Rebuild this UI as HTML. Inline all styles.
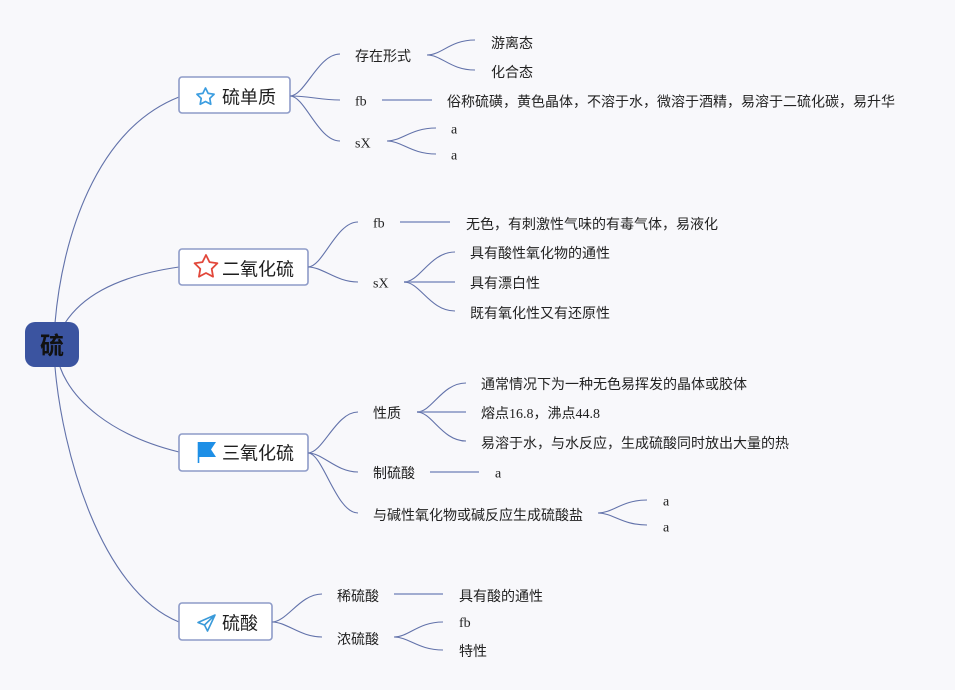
<!DOCTYPE html>
<html><head><meta charset="utf-8">
<style>
html,body{margin:0;padding:0;background:#f8f8fb;}
svg{display:block;}
.t{font-family:"Liberation Serif","Noto Sans CJK SC",sans-serif;font-size:14px;fill:#222;}
.m{font-family:"Liberation Sans","Noto Sans CJK SC",sans-serif;font-size:18px;fill:#1e1e1e;}
.c{fill:none;stroke:#6272aa;stroke-width:1.1;}
.h{fill:none;stroke:#8493c2;stroke-width:1.5;}
.b{fill:#fff;stroke:#8e9bc8;stroke-width:1.6;}
</style></head>
<body>
<svg width="955" height="690" viewBox="0 0 955 690" xmlns="http://www.w3.org/2000/svg">
<rect width="955" height="690" fill="#f8f8fb"/>

<!-- root connectors -->
<path class="c" d="M55,323 C62,240 95,130 179,97"/>
<path class="c" d="M65,323 C80,300 110,277 179,267"/>
<path class="c" d="M60,367 C72,400 110,435 179,452"/>
<path class="c" d="M55,367 C62,450 100,590 179,622"/>

<!-- root -->
<rect x="25" y="322" width="54" height="45" rx="10" ry="10" fill="#3b54a0"/>
<text x="52" y="354" text-anchor="middle" style="font-family:'Liberation Sans','Noto Sans CJK SC',sans-serif;font-size:24px;font-weight:bold;fill:#111;">硫</text>

<!-- 硫单质 -->
<rect class="b" x="179" y="77" width="111" height="36" rx="3"/>
<polygon points="205.5,88 208.15,93.36 214.06,94.22 209.78,98.39 210.79,104.28 205.5,101.5 200.21,104.28 201.22,98.39 196.94,94.22 202.85,93.36" fill="none" stroke="#3b9de0" stroke-width="1.7" stroke-linejoin="round"/>
<text class="m" x="222" y="103.5">硫单质</text>

<path class="c" d="M290,96 C305,96 318,54 340,54"/>
<path class="c" d="M290,96 C310,96 320,100 340,100"/>
<path class="c" d="M290,96 C305,96 318,141 340,141"/>
<text class="t" x="355" y="61">存在形式</text>
<text class="t" x="355" y="105.5">fb</text>
<text class="t" x="355" y="147.5">sX</text>

<path class="c" d="M427,55 C442,55 450,40 475,40"/>
<path class="c" d="M427,55 C442,55 450,70 475,70"/>
<text class="t" x="491" y="48">游离态</text>
<text class="t" x="491" y="77">化合态</text>

<line class="h" x1="382" y1="100" x2="432" y2="100"/>
<text class="t" x="447" y="106.5">俗称硫磺，黄色晶体，不溶于水，微溶于酒精，易溶于二硫化碳，易升华</text>

<path class="c" d="M387,141 C402,141 411,128 436,128"/>
<path class="c" d="M387,141 C402,141 411,154 436,154"/>
<text class="t" x="451" y="133.5">a</text>
<text class="t" x="451" y="159.5">a</text>

<!-- 二氧化硫 -->
<rect class="b" x="179" y="249" width="129" height="36" rx="3"/>
<polygon points="206,255 209.53,262.15 217.41,263.29 211.71,268.85 213.05,276.71 206,273 198.95,276.71 200.29,268.85 194.59,263.29 202.47,262.15" fill="none" stroke="#e2473a" stroke-width="1.8" stroke-linejoin="round"/>
<text class="m" x="222" y="275.5">二氧化硫</text>

<path class="c" d="M308,267 C323,267 336,222 358,222"/>
<path class="c" d="M308,267 C323,267 336,282 358,282"/>
<text class="t" x="373" y="227.5">fb</text>
<text class="t" x="373" y="287.5">sX</text>

<line class="h" x1="400" y1="222" x2="450" y2="222"/>
<text class="t" x="466" y="229">无色，有刺激性气味的有毒气体，易液化</text>

<path class="c" d="M404,282 C420,282 430,252 455,252"/>
<line class="h" x1="404" y1="282" x2="455" y2="282"/>
<path class="c" d="M404,282 C420,282 430,311 455,311"/>
<text class="t" x="470" y="258">具有酸性氧化物的通性</text>
<text class="t" x="470" y="288">具有漂白性</text>
<text class="t" x="470" y="318">既有氧化性又有还原性</text>

<!-- 三氧化硫 -->
<rect class="b" x="179" y="434" width="129" height="37" rx="3"/>
<line x1="198.5" y1="442" x2="198.5" y2="463" stroke="#1e8fe6" stroke-width="1.6"/>
<polygon points="198,442 216,442 211,449.5 216,457 198,457" fill="#1e8fe6"/>
<text class="m" x="222" y="459.5">三氧化硫</text>

<path class="c" d="M308,453 C323,453 336,412 358,412"/>
<path class="c" d="M308,453 C323,453 336,472 358,472"/>
<path class="c" d="M308,453 C323,453 336,513 358,513"/>
<text class="t" x="373" y="418">性质</text>
<text class="t" x="373" y="478">制硫酸</text>
<text class="t" x="373" y="520">与碱性氧化物或碱反应生成硫酸盐</text>

<path class="c" d="M417,412 C432,412 442,383 466,383"/>
<line class="h" x1="417" y1="412" x2="466" y2="412"/>
<path class="c" d="M417,412 C432,412 442,441 466,441"/>
<text class="t" x="481" y="389">通常情况下为一种无色易挥发的晶体或胶体</text>
<text class="t" x="481" y="418">熔点16.8，沸点44.8</text>
<text class="t" x="481" y="448">易溶于水，与水反应，生成硫酸同时放出大量的热</text>

<line class="h" x1="430" y1="472" x2="479" y2="472"/>
<text class="t" x="495" y="477.5">a</text>

<path class="c" d="M598,513 C613,513 622,500 647,500"/>
<path class="c" d="M598,513 C613,513 622,525 647,525"/>
<text class="t" x="663" y="505.5">a</text>
<text class="t" x="663" y="531.5">a</text>

<!-- 硫酸 -->
<rect class="b" x="179" y="603" width="93" height="37" rx="3"/>
<path d="M215,615 L198,622.5 L204.5,625 L207.5,631 Z M204.5,625 L215,615" fill="none" stroke="#3a9ad9" stroke-width="1.6" stroke-linejoin="round"/>
<text class="m" x="222" y="629.5">硫酸</text>

<path class="c" d="M272,622 C287,622 300,594 322,594"/>
<path class="c" d="M272,622 C287,622 300,637 322,637"/>
<text class="t" x="337" y="601">稀硫酸</text>
<text class="t" x="337" y="644">浓硫酸</text>

<line class="h" x1="394" y1="594" x2="443" y2="594"/>
<text class="t" x="459" y="601">具有酸的通性</text>

<path class="c" d="M394,637 C409,637 418,622 443,622"/>
<path class="c" d="M394,637 C409,637 418,650 443,650"/>
<text class="t" x="459" y="627">fb</text>
<text class="t" x="459" y="656">特性</text>
</svg>
</body></html>
